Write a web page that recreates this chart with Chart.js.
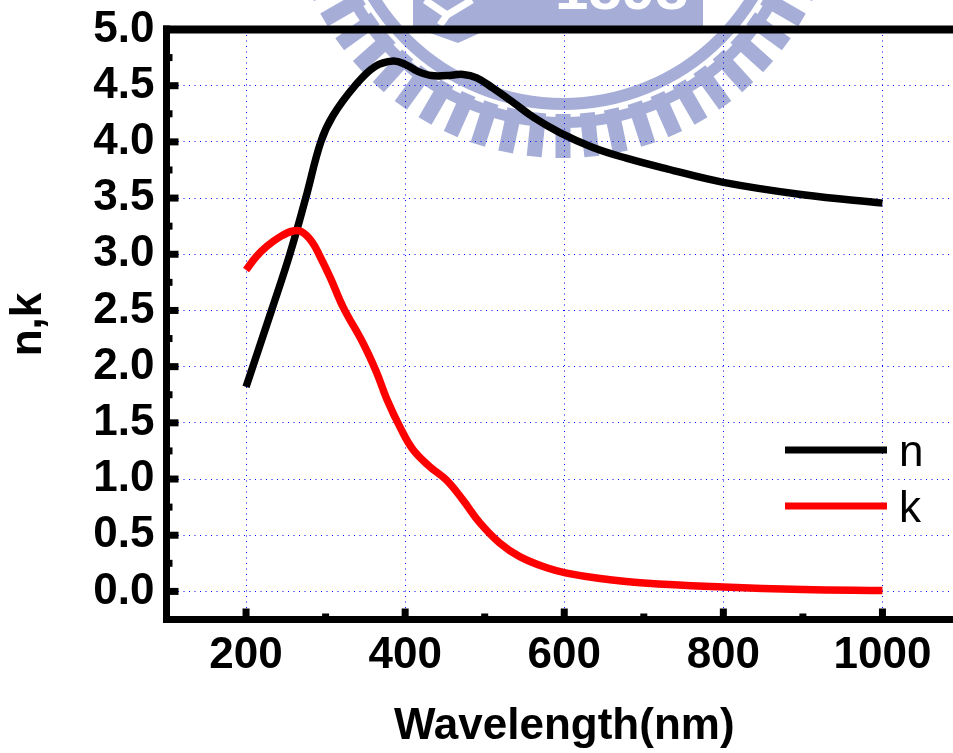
<!DOCTYPE html>
<html><head><meta charset="utf-8">
<style>html,body{margin:0;padding:0;background:#fff;overflow:hidden;width:953px;height:753px}canvas{display:block}</style>
<script src="https://cdn.jsdelivr.net/npm/chart.js@4"></script>
</head><body><canvas id="c" width="962" height="753" style="width:962px;height:753px"></canvas>
<script>
const nX = [200,232,255,275,294,309,337,362,385,400,415,433,452,473,490,510,536,561,595,636,678,729,800,900,1000];
const nY = [1.82,2.5,3.0,3.5,4.0,4.23,4.5,4.67,4.72,4.69,4.63,4.59,4.59,4.60,4.57,4.48,4.35,4.22,4.08,3.95,3.855,3.76,3.64,3.53,3.455];
const kX = [200,213,226,243,259,270,283,293,306,322,347,364,377,394,410,431,452,473,494,519,544,578,603,645,700,800,900,1000];
const kY = [2.86,2.98,3.07,3.157,3.207,3.20,3.11,2.98,2.79,2.53,2.21,1.95,1.71,1.455,1.26,1.11,0.99,0.81,0.61,0.43,0.31,0.21,0.163,0.115,0.075,0.04,0.018,0.008];
const xTicks = [200,400,600,800,1000];
const xMinor = [300,500,700,900];
const yTicks = [0,0.5,1,1.5,2,2.5,3,3.5,4,4.5,5];
const yMinor = [0.25,0.75,1.25,1.75,2.25,2.75,3.25,3.75,4.25,4.75];
const FONT = '"Liberation Sans", Arial, sans-serif';
const toPts = (xs, ys) => xs.map((x, i) => ({x, y: ys[i]}));

const watermark = {
  id: 'watermark',
  beforeDraw(chart) {
    const g = chart.ctx, cx = 563, cy = -118, col = '#a6aed8';
    g.save();
    g.fillStyle = col;
    for (let i = -14; i <= 14; i++) {
      g.save(); g.translate(cx, cy); g.rotate(i * 6 * Math.PI / 180);
      g.fillRect(-7.5, 232, 15, 44);
      g.restore();
    }
    g.strokeStyle = col;
    g.lineWidth = 11;
    g.beginPath(); g.arc(cx, cy, 240.5, 0, Math.PI); g.stroke();
    g.lineWidth = 12;
    g.beginPath(); g.arc(cx, cy, 222, 0, Math.PI); g.stroke();
    g.fillRect(413, 0, 290, 33);
    g.beginPath(); g.moveTo(430, 33); g.lineTo(480, 33); g.lineTo(458, 43); g.closePath(); g.fill();
    g.strokeStyle = '#fff'; g.lineWidth = 7;
    g.beginPath(); g.moveTo(425, 0); g.lineTo(447, 15); g.lineTo(472, 0); g.moveTo(447, 15); g.lineTo(440, 25); g.stroke();
    g.fillStyle = '#fff'; g.font = 'bold 60px ' + FONT; g.textAlign = 'left'; g.textBaseline = 'alphabetic';
    g.fillText('1898', 555, 9);
    g.restore();
  }
};

const frame = {
  id: 'frame',
  afterDatasetsDraw(chart) {
    const g = chart.ctx, a = chart.chartArea, sx = chart.scales.x, sy = chart.scales.y;
    g.save();
    g.fillStyle = '#000';
    for (const v of xTicks) g.fillRect(sx.getPixelForValue(v) - 3.5, a.bottom - 11, 7, 11);
    for (const v of xMinor) g.fillRect(sx.getPixelForValue(v) - 3.5, a.bottom - 6, 7, 6);
    for (const v of yTicks) g.fillRect(a.left, sy.getPixelForValue(v) - 3.5, 12, 7);
    for (const v of yMinor) g.fillRect(a.left, sy.getPixelForValue(v) - 3.5, 6, 7);
    g.fillRect(a.left - 3.5, a.top - 4, 7, a.bottom - a.top + 7.5);
    g.fillRect(a.left - 3.5, a.top - 4, a.right - a.left, 8);
    g.fillRect(a.left - 3.5, a.bottom - 3.5, a.right - a.left, 7);
    const rows = [450, 506];
    chart.data.datasets.forEach((d, i) => {
      g.fillStyle = d.borderColor;
      g.fillRect(785, rows[i] - 3.5, 102, 7);
      g.fillStyle = '#000';
      g.font = '44px ' + FONT; g.textAlign = 'left'; g.textBaseline = 'alphabetic';
      g.fillText(d.label, 899, rows[i] + 16);
    });
    g.restore();
  }
};

new Chart(document.getElementById('c'), {
  type: 'line',
  data: { datasets: [
    { label: 'n', data: toPts(nX, nY), borderColor: '#000000', borderWidth: 7.5, pointRadius: 0, tension: 0.4, order: 2, borderCapStyle: 'butt' },
    { label: 'k', data: toPts(kX, kY), borderColor: '#ff0000', borderWidth: 7.5, pointRadius: 0, tension: 0.4, order: 1, borderCapStyle: 'butt' }
  ]},
  plugins: [watermark, frame],
  options: {
    responsive: false, animation: false,
    layout: { padding: { top: 29.5, left: 0, right: 0, bottom: 0 } },
    plugins: { legend: { display: false }, tooltip: { enabled: false }, title: { display: false } },
    scales: {
      x: {
        type: 'linear', min: 100, max: 1100,
        afterBuildTicks: s => { s.ticks = xTicks.map(value => ({value})); },
        afterFit: s => { s.height = 133.5; s.paddingLeft = 0; s.paddingRight = 0; },
        grid: { color: '#0000ff', lineWidth: 1, drawTicks: false },
        border: { display: false, dash: [1, 4.5] },
        ticks: { color: '#000', autoSkip: false, maxRotation: 0, padding: 10, callback: v => String(v), font: { family: FONT, size: 44, weight: 'bold' } },
        title: { display: true, text: 'Wavelength(nm)', color: '#000', font: { family: FONT, size: 44, weight: 'bold' }, padding: { top: 0, bottom: 0 } }
      },
      y: {
        type: 'linear', min: -0.25, max: 5,
        afterBuildTicks: s => { s.ticks = yTicks.map(value => ({value})); },
        afterFit: s => { s.width = 166.5; s.paddingTop = 0; s.paddingBottom = 0; },
        grid: { color: '#0000ff', lineWidth: 1, drawTicks: false },
        border: { display: false, dash: [1, 4.5] },
        ticks: { color: '#000', autoSkip: false, padding: 12, callback: v => Number(v).toFixed(1), font: { family: FONT, size: 44, weight: 'bold' } },
        title: { display: true, text: 'n,k', color: '#000', font: { family: FONT, size: 44, weight: 'bold' }, padding: { top: 2, bottom: 0 } }
      }
    }
  }
});
</script></body></html>
